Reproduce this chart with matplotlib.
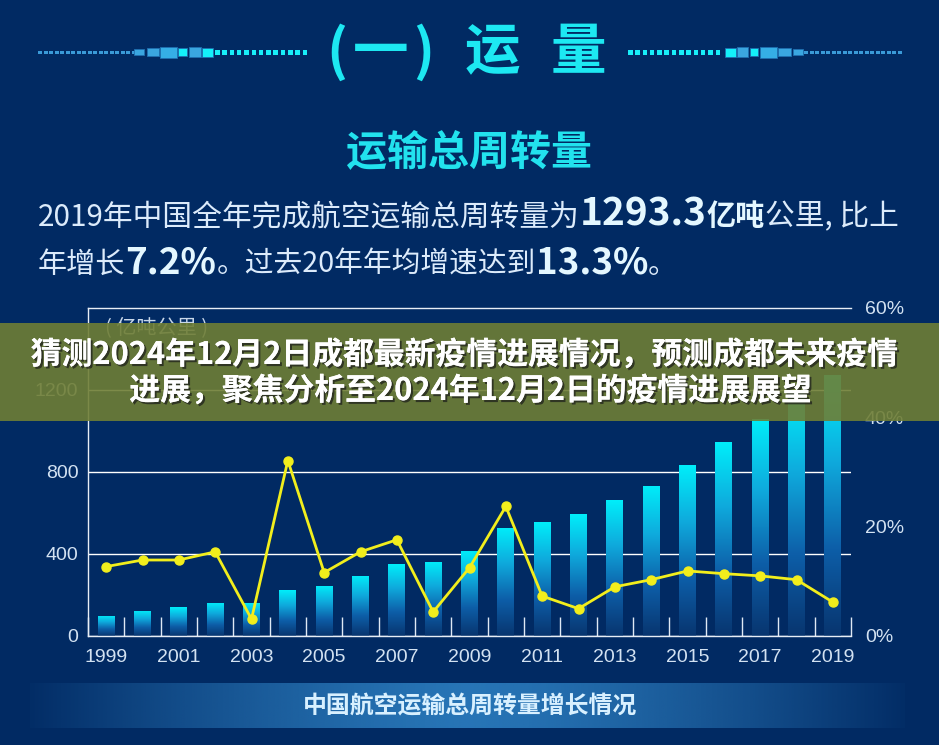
import numpy as np
import matplotlib
matplotlib.use("Agg")
import matplotlib.pyplot as plt
import matplotlib.patheffects as pe
from matplotlib.colors import LinearSegmentedColormap
from matplotlib.patches import Rectangle

plt.rcParams['font.family'] = ['Noto Sans CJK SC', 'DejaVu Sans']

# data
years = list(range(1999, 2020))
turnover = [98, 122, 141, 161, 161, 224, 244, 293, 351, 361, 415, 527, 556, 595,
            663, 732, 834, 946, 1059, 1190, 1272]           # 亿吨公里
growth = [12.7, 13.9, 13.9, 15.4, 3.1, 32.1, 11.6, 15.4, 17.6, 4.4, 12.5, 23.7,
          7.3, 5.0, 9.0, 10.3, 11.9, 11.4, 11.0, 10.3, 6.2]  # %
left_ticks = [0, 400, 800, 1200]
right_ticks = [0, 20, 40, 60]
year_labels = [str(y) for y in years[::2]]

BG = '#012a63'
W, H = 939, 745
fig = plt.figure(figsize=(W / 100, H / 100), dpi=100, facecolor=BG)

# full-figure axes in pixel coords for decorations
bg = fig.add_axes([0, 0, 1, 1], zorder=0)
bg.set_xlim(0, W)
bg.set_ylim(H, 0)
bg.axis('off')
bg.set_facecolor(BG)

# title dash decorations
def dashes(x0, x1, w, h, step, color):
    x = x0
    while x < x1:
        bg.add_patch(Rectangle((x, 52 - h / 2), w, h, color=color, lw=0))
        x += step

dashes(38, 133, 4, 3, 5.5, '#3a9ad8')
dashes(215, 308, 4.5, 5, 7.3, '#18eef8')
dashes(628, 722, 4.5, 5, 7.3, '#18eef8')
dashes(804, 898, 4, 3, 5.5, '#3a9ad8')
left_sq = [(134, 144, 6, '#3aa6e0'), (147, 159, 8, '#3aa6e0'), (160, 177, 11, '#35aee6'),
           (178, 187, 8, '#14f0fa'), (189, 201, 10, '#3aa6e0'), (202, 213, 9, '#14f0fa')]
right_sq = [(725, 736, 9, '#14f0fa'), (737, 748, 10, '#3aa6e0'), (750, 758, 8, '#14f0fa'),
            (760, 777, 11, '#35aee6'), (778, 791, 8, '#3aa6e0'), (793, 803, 6, '#3aa6e0')]
for a, b, h, c in left_sq + right_sq:
    bg.add_patch(Rectangle((a, 52 - h / 2), b - a, h, facecolor=c, edgecolor='#1f6fb0', lw=0.6))

# section title, characters spaced like the poster
TITLE = '#1de8f2'
for ch, cx, fs in [('(', 337, 40), ('一', 381, 40), (')', 424, 40), ('运', 492, 40), ('量', 578, 40)]:
    bg.text(cx, 53, ch, color=TITLE, fontsize=fs, fontweight='bold', ha='center', va='center')

bg.text(469, 152, '运输总周转量', color='#22e2ee', fontsize=29.5, fontweight='bold',
        ha='center', va='center')

renderer = fig.canvas.get_renderer()

def rich_line(x, y, pieces):
    for s, size, weight, col in pieces:
        t = bg.text(x, y, s, fontsize=size, fontweight=weight, color=col,
                    ha='left', va='baseline')
        x += t.get_window_extent(renderer).width
    return x

TXT = '#dcebfb'
NUM = '#e4f7ff'
rich_line(38, 225, [('2019年中国全年完成航空运输总周转量为', 21.4, 'normal', TXT),
                    ('1293.3', 28, 'bold', NUM), ('亿吨', 21, 'bold', NUM),
                    ('公里, 比上', 21.4, 'normal', TXT)])
rich_line(38, 273, [('年增长', 21, 'normal', TXT), ('7.2%', 26.5, 'bold', NUM),
                    ('。过去20年年均增速达到', 20.7, 'normal', TXT),
                    ('13.3%', 26.5, 'bold', NUM), ('。', 21, 'normal', TXT)])

# bottom caption band with horizontal glow
xs = np.linspace(-1, 1, 400)
glow = np.zeros((1, 400, 4))
glow[..., 0] = 42 / 255
glow[..., 1] = 122 / 255
glow[..., 2] = 188 / 255
glow[..., 3] = 0.04 + 0.9 * np.clip(1 - np.abs(xs) ** 1.4, 0, 1)
bg.imshow(glow, extent=(30, 905, 728, 683), aspect='auto', interpolation='bilinear', zorder=1)
bg.text(470, 706, '中国航空运输总周转量增长情况', color='#d8f0ff', fontsize=17.2,
        fontweight='bold', ha='center', va='center', zorder=2)

# unit label (sits under the banner)
bg.text(105, 328, '( 亿吨公里 )', color='#c9d8ea', fontsize=14.5, ha='left', va='center')

# chart
ax = fig.add_axes([88 / W, 1 - 636 / H, (851 - 88) / W, (636 - 308) / H], zorder=2)
ax.patch.set_alpha(0)
x = np.arange(len(years))
ax.set_xlim(-0.5, len(years) - 0.5)
ax.set_ylim(0, 1600)

cmap = LinearSegmentedColormap.from_list('bar', ['#08356f', '#0d5ea8', '#0fa9dc', '#00eefa'])
grad = np.linspace(0, 1, 256).reshape(-1, 1)
bars = ax.bar(x, turnover, width=0.46, color='none', lw=0, zorder=2)
for b, v in zip(bars, turnover):
    im = ax.imshow(grad, cmap=cmap, origin='lower', aspect='auto',
                   extent=(b.get_x(), b.get_x() + b.get_width(), 0, v), zorder=2)
    im.set_clip_path(b)

ax.set_yticks(left_ticks)
ax.grid(axis='y', color='white', lw=1)
ax.set_axisbelow(True)
ax.set_xticks(x[::2])
ax.set_xticklabels(year_labels)
ax.set_xticks(np.arange(-0.5, len(years) + 0.5, 1), minor=True)
ax.tick_params(axis='x', which='major', length=0, pad=9, labelsize=14, labelcolor='#d3e2f2')
ax.tick_params(axis='x', which='minor', direction='in', length=14, width=1, color='#dfe8f4')
ax.tick_params(axis='y', length=0, pad=7, labelsize=14, labelcolor='#d3e2f2')
for lab in ax.get_xticklabels() + ax.get_yticklabels():
    lab.set_family('Liberation Sans')
for s in ['left', 'bottom', 'top']:
    ax.spines[s].set_color('#e8eef6')
    ax.spines[s].set_linewidth(1)
ax.spines['right'].set_visible(False)

ax2 = ax.twinx()
ax2.set_ylim(0, 60)
ax2.set_yticks(right_ticks)
ax2.set_yticklabels([f'{t}%' for t in right_ticks])
ax2.tick_params(axis='y', length=0, pad=10, labelsize=14, labelcolor='#d3e2f2')
for lab in ax2.get_yticklabels():
    lab.set_family('Liberation Sans')
for s in ax2.spines.values():
    s.set_visible(False)
ax2.plot(x, growth, color='#f2ee1c', lw=2, marker='o', ms=6.5, zorder=5)

# headline banner over the chart
ov = fig.add_axes([0, 0, 1, 1], zorder=5)
ov.set_xlim(0, W)
ov.set_ylim(H, 0)
ov.axis('off')
ov.patch.set_alpha(0)
ov.add_patch(Rectangle((0, 323), W, 98, facecolor='#6f7e35', alpha=0.9, lw=0))
shadow = [pe.withSimplePatchShadow(offset=(1.5, -1.5), shadow_rgbFace='#1a1a1a', alpha=0.7),
          pe.Normal()]
ov.text(465, 355, '猜测2024年12月2日成都最新疫情进展情况，预测成都未来疫情', color='white',
        fontsize=22.2, fontweight='bold', ha='center', va='center', path_effects=shadow)
ov.text(471, 391, '进展，聚焦分析至2024年12月2日的疫情进展展望', color='white',
        fontsize=22.2, fontweight='bold', ha='center', va='center', path_effects=shadow)

fig.savefig('out.png', dpi=100, facecolor=BG)
